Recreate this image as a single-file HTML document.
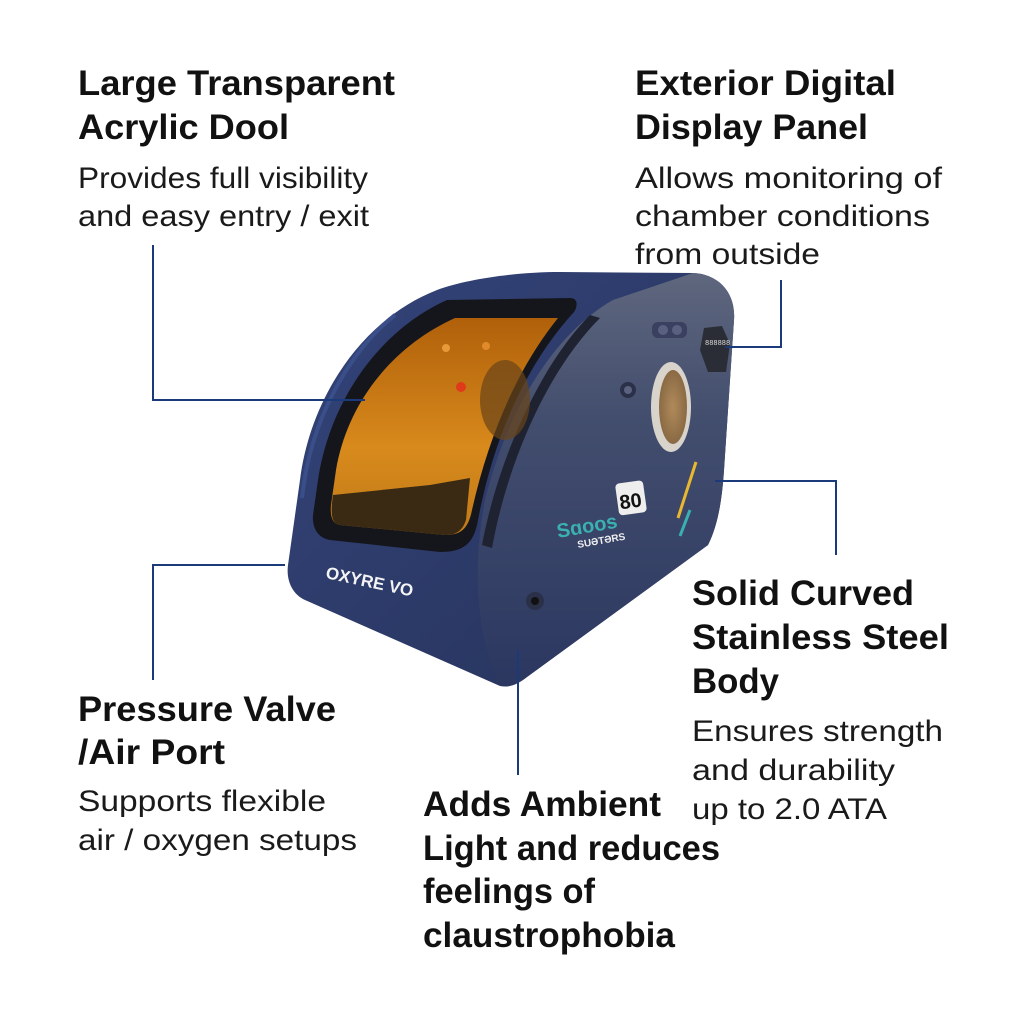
<!DOCTYPE html>
<html><head><meta charset="utf-8"><style>
html,body{margin:0;padding:0;background:#fff;}
svg{display:block}
.h{font-family:"Liberation Sans",sans-serif;font-weight:bold;font-size:35px;fill:#111}
.b{font-family:"Liberation Sans",sans-serif;font-size:30px;fill:#1a1a1a}
</style></head><body>
<svg width="1024" height="1024" viewBox="0 0 1024 1024" xmlns="http://www.w3.org/2000/svg">
<defs>
<linearGradient id="side" x1="0" y1="0" x2="0" y2="1">
<stop offset="0" stop-color="#5f677e"/><stop offset="0.35" stop-color="#434e6e"/><stop offset="1" stop-color="#2b3760"/>
</linearGradient>
<linearGradient id="front" x1="0" y1="0" x2="1" y2="1">
<stop offset="0" stop-color="#34447a"/><stop offset="1" stop-color="#26325a"/>
</linearGradient>
<linearGradient id="win" x1="0" y1="0" x2="0" y2="1">
<stop offset="0" stop-color="#b0600a"/><stop offset="0.6" stop-color="#d88a1c"/><stop offset="1" stop-color="#c07a18"/>
</linearGradient>
<radialGradient id="port" cx="0.5" cy="0.5" r="0.5">
<stop offset="0" stop-color="#b08a5a"/><stop offset="1" stop-color="#8a6a44"/>
</radialGradient>
</defs>

<path d="M437,290 C470,278 520,272 560,272 L693,273 C718,274 736,292 734,320 L724,470 C722,500 718,525 708,545 L527,677 C518,684 510,688 500,686 L305,600 C292,594 286,580 288,565 L300,480 C310,400 360,320 437,290 Z" fill="url(#front)"/>
<path d="M613,300 L693,273 C718,274 736,292 734,320 L724,470 C722,500 718,525 708,545 L527,677 C518,684 508,688 498,684 C480,640 470,580 485,500 C510,400 560,330 613,300 Z" fill="url(#side)"/>
<path d="M590,315 C545,360 500,450 482,545 L492,548 C508,460 548,370 600,318 Z" fill="#1f2230"/>
<path d="M447,300 L570,298 C578,298 578,306 574,312 C530,360 495,430 478,520 C474,545 462,552 440,552 L330,540 C318,538 312,528 313,515 L318,480 C330,400 380,330 447,300 Z" fill="#15161c"/>
<path d="M455,318 L558,318 C520,365 490,430 472,510 C468,530 460,535 445,535 L340,525 C332,524 330,515 331,505 L336,470 C348,400 395,345 455,318 Z" fill="url(#win)"/>
<path d="M333,495 L430,485 L470,478 L466,520 C462,532 455,535 445,535 L340,525 C332,524 330,515 333,495 Z" fill="#3a2a14"/>
<ellipse cx="505" cy="400" rx="25" ry="40" fill="#6a4418" opacity="0.7"/>
<circle cx="461" cy="387" r="5" fill="#e03a1a"/>
<circle cx="486" cy="346" r="4" fill="#e08a2a"/>
<circle cx="446" cy="348" r="4" fill="#e89a3a"/>
<path d="M302,498 C310,420 350,350 395,315" stroke="#3a4f8a" stroke-width="4" fill="none"/>
<path d="M704,328 L722,326 L730,344 L726,372 L708,372 L700,350 Z" fill="#2a2d36"/>
<text x="705" y="345" font-family="Liberation Mono,monospace" font-size="7" fill="#ddd">888888</text>
<rect x="652" y="322" width="35" height="16" rx="6" fill="#3a4060"/>
<circle cx="663" cy="330" r="5" fill="#5a6080"/><circle cx="677" cy="330" r="5" fill="#5a6080"/>
<circle cx="628" cy="390" r="8" fill="#2a3048"/><circle cx="628" cy="390" r="4" fill="#5a6280"/>
<ellipse cx="671" cy="407" rx="20" ry="45" fill="#d8d4cc"/>
<ellipse cx="673" cy="407" rx="14" ry="37" fill="url(#port)"/>
<text x="558" y="538" font-family="Liberation Sans,sans-serif" font-weight="bold" font-size="20" fill="#3ab0b0" transform="rotate(-10 558 538)">Sɑoos</text>
<rect x="617" y="482" width="28" height="32" rx="4" fill="#eee" transform="rotate(-8 630 498)"/>
<text x="619" y="508" font-family="Liberation Sans,sans-serif" font-weight="bold" font-size="20" fill="#111" transform="rotate(-8 630 498)">80</text>
<text x="578" y="548" font-family="Liberation Sans,sans-serif" font-weight="bold" font-size="10" fill="#eee" transform="rotate(-10 578 548)">SUƏTƏRS</text>
<line x1="696" y1="462" x2="678" y2="518" stroke="#e8b830" stroke-width="3"/>
<line x1="690" y1="510" x2="680" y2="536" stroke="#3ab0b0" stroke-width="3"/>
<text x="325" y="578" font-family="Liberation Sans,sans-serif" font-weight="bold" font-size="17" fill="#f4f4f4" transform="rotate(12 325 578)">OXYRE VO</text>
<circle cx="535" cy="601" r="9" fill="#2a3048"/><circle cx="535" cy="601" r="4" fill="#111"/>

<g stroke="#1b3a7a" stroke-width="2" fill="none">
<polyline points="153,245 153,400 365,400"/>
<polyline points="725,347 781,347 781,280"/>
<polyline points="715,481 836,481 836,555"/>
<polyline points="285,565 153,565 153,680"/>
<line x1="518" y1="650" x2="518" y2="775"/>
</g>

<text class="h" x="78" y="95" textLength="317" lengthAdjust="spacingAndGlyphs">Large Transparent</text>
<text class="h" x="78" y="139" textLength="211" lengthAdjust="spacingAndGlyphs">Acrylic Dool</text>
<text class="b" x="78" y="188" textLength="290" lengthAdjust="spacingAndGlyphs">Provides full visibility</text>
<text class="b" x="78" y="226" textLength="291" lengthAdjust="spacingAndGlyphs">and easy entry / exit</text>

<text class="h" x="635" y="95" textLength="261" lengthAdjust="spacingAndGlyphs">Exterior Digital</text>
<text class="h" x="635" y="139" textLength="233" lengthAdjust="spacingAndGlyphs">Display Panel</text>
<text class="b" x="635" y="188" textLength="307" lengthAdjust="spacingAndGlyphs">Allows monitoring of</text>
<text class="b" x="635" y="226" textLength="295" lengthAdjust="spacingAndGlyphs">chamber conditions</text>
<text class="b" x="635" y="264" textLength="185" lengthAdjust="spacingAndGlyphs">from outside</text>

<text class="h" x="692" y="605" textLength="222" lengthAdjust="spacingAndGlyphs">Solid Curved</text>
<text class="h" x="692" y="649" textLength="257" lengthAdjust="spacingAndGlyphs">Stainless Steel</text>
<text class="h" x="692" y="693" textLength="87" lengthAdjust="spacingAndGlyphs">Body</text>
<text class="b" x="692" y="741" textLength="251" lengthAdjust="spacingAndGlyphs">Ensures strength</text>
<text class="b" x="692" y="780" textLength="203" lengthAdjust="spacingAndGlyphs">and durability</text>
<text class="b" x="692" y="819" textLength="195" lengthAdjust="spacingAndGlyphs">up to 2.0 ATA</text>

<text class="h" x="78" y="721" textLength="258" lengthAdjust="spacingAndGlyphs">Pressure Valve</text>
<text class="h" x="78" y="764" textLength="147" lengthAdjust="spacingAndGlyphs">/Air Port</text>
<text class="b" x="78" y="811" textLength="248" lengthAdjust="spacingAndGlyphs">Supports flexible</text>
<text class="b" x="78" y="850" textLength="279" lengthAdjust="spacingAndGlyphs">air / oxygen setups</text>

<text class="h" x="423" y="816" textLength="238" lengthAdjust="spacingAndGlyphs">Adds Ambient</text>
<text class="h" x="423" y="860" textLength="297" lengthAdjust="spacingAndGlyphs">Light and reduces</text>
<text class="h" x="423" y="903" textLength="172" lengthAdjust="spacingAndGlyphs">feelings of</text>
<text class="h" x="423" y="947" textLength="252" lengthAdjust="spacingAndGlyphs">claustrophobia</text>
</svg>
</body></html>
